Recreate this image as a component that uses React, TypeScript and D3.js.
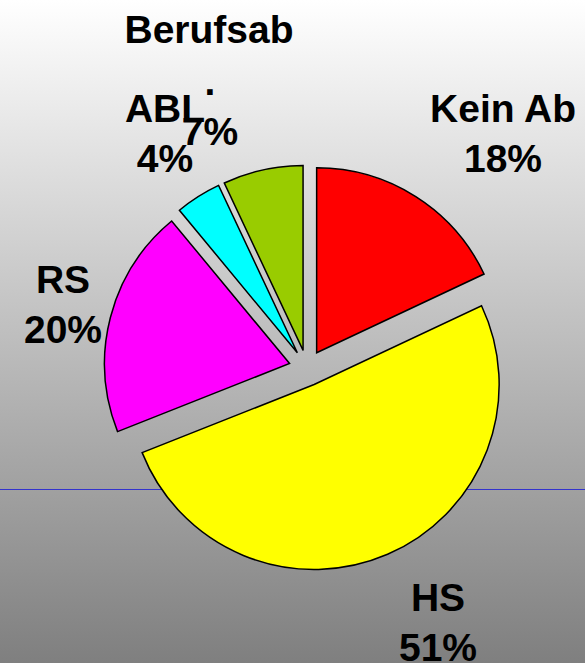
import React, { useEffect, useRef } from 'react';
import * as d3 from 'd3';

const categories = ['Kein Ab', 'HS', 'RS', 'ABL', '.'];
const values = [18, 51, 20, 4, 7];
const colors = ['#ff0000', '#ffff00', '#ff00ff', '#00ffff', '#99cc00'];
const title = 'Berufsab';

// label centres (middle between the two lines), picked to sit like the original
const labelSpots: Record<string, [number, number]> = {
  'Kein Ab': [503, 147],
  HS: [438, 636],
  RS: [63, 318],
  ABL: [165, 147],
  '.': [210, 120],
};

const W = 585;
const H = 663;

export default function App() {
  const ref = useRef<SVGSVGElement>(null);

  useEffect(() => {
    const svg = d3.select(ref.current);
    svg.selectAll('*').remove();

    const defs = svg.append('defs');
    const grad = defs.append('linearGradient')
      .attr('id', 'bg')
      .attr('x1', 0).attr('y1', 0).attr('x2', 0).attr('y2', 1);
    grad.append('stop').attr('offset', '0%').attr('stop-color', '#ffffff');
    grad.append('stop').attr('offset', '100%').attr('stop-color', '#7f7f7f');

    svg.append('rect')
      .attr('width', W).attr('height', H)
      .attr('fill', 'url(#bg)');

    // the thin blue rule across the lower part
    svg.append('line')
      .attr('x1', 0).attr('x2', W)
      .attr('y1', 489.5).attr('y2', 489.5)
      .attr('stroke', '#3333cc')
      .attr('stroke-width', 1);

    const cx = 307;
    const cy = 368;
    const radius = 185;
    const explode = 18;

    const pie = d3.pie<number>().sort(null).value(d => d);
    const arcs = pie(values);
    const arc = d3.arc<d3.PieArcDatum<number>>().innerRadius(0).outerRadius(radius);

    const g = svg.append('g').attr('transform', `translate(${cx},${cy})`);

    g.selectAll('path')
      .data(arcs)
      .enter()
      .append('path')
      .attr('d', arc)
      .attr('fill', (d, i) => colors[i])
      .attr('stroke', '#000')
      .attr('stroke-width', 1.5)
      .attr('stroke-linejoin', 'miter')
      .attr('transform', d => {
        const mid = (d.startAngle + d.endAngle) / 2;
        return `translate(${Math.sin(mid) * explode},${-Math.cos(mid) * explode})`;
      });

    const font = "'Liberation Sans', Arial, Helvetica, sans-serif";
    const total = d3.sum(values);

    svg.append('text')
      .attr('x', 209).attr('y', 43)
      .attr('text-anchor', 'middle')
      .attr('font-family', font)
      .attr('font-weight', 'bold')
      .attr('font-size', 39)
      .attr('fill', '#000')
      .text(title);

    const labels = svg.selectAll('g.lbl')
      .data(arcs)
      .enter()
      .append('g')
      .attr('class', 'lbl')
      .attr('transform', (d, i) => {
        const p = labelSpots[categories[i]];
        return `translate(${p[0]},${p[1]})`;
      })
      .attr('font-family', font)
      .attr('font-weight', 'bold')
      .attr('font-size', 39)
      .attr('text-anchor', 'middle')
      .attr('fill', '#000');

    labels.append('text')
      .attr('y', -25)
      .text((d, i) => categories[i]);
    labels.append('text')
      .attr('y', 25)
      .text(d => `${Math.round((d.value / total) * 100)}%`);
  }, []);

  return (
    <svg
      ref={ref}
      width={W}
      height={H}
      style={{ position: 'absolute', left: 0, top: 0, display: 'block' }}
    />
  );
}
